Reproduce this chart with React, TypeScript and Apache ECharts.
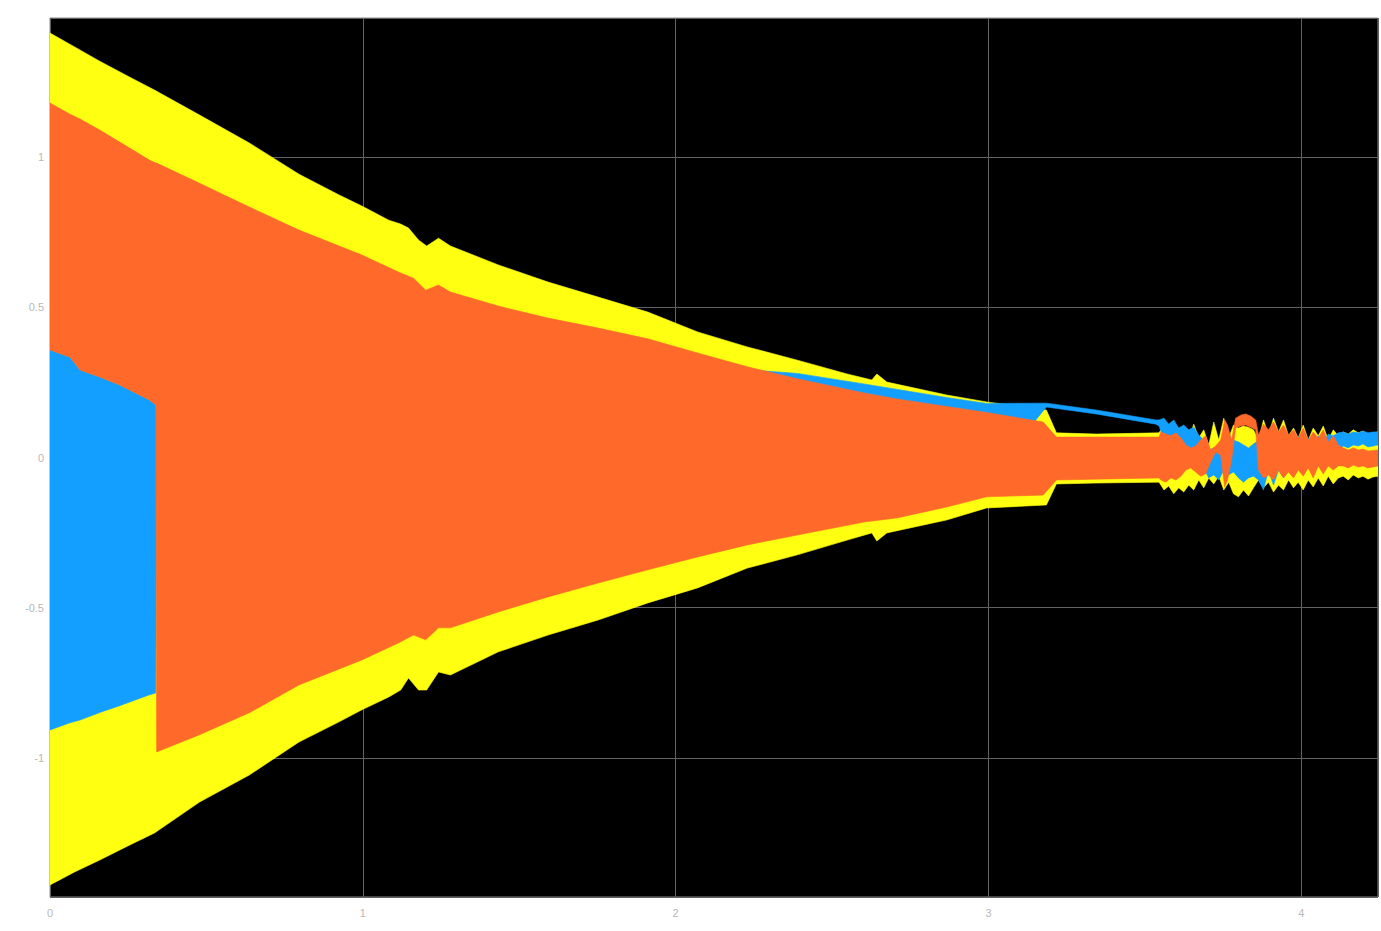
import React, { useEffect, useRef } from "react";
import * as echarts from "echarts";

// Tick values
const xTicks = [0, 1, 2, 3, 4];
const yTicks = [-1, -0.5, 0, 0.5, 1];

// Yellow signal envelope (main part)
const yellowX = [0, 0.080, 0.159, 0.255, 0.334, 0.478, 0.637, 0.796, 0.924, 0.997, 1.083, 1.121, 1.146, 1.178, 1.204, 1.242, 1.280, 1.433, 1.592, 1.752, 1.911, 2.070, 2.229, 2.389, 2.548, 2.627, 2.643, 2.675, 2.866, 2.994, 3.185, 3.217, 3.344];
const yellowHigh = [1.413, 1.366, 1.319, 1.266, 1.223, 1.140, 1.047, 0.943, 0.874, 0.837, 0.790, 0.777, 0.764, 0.724, 0.704, 0.730, 0.704, 0.641, 0.584, 0.534, 0.484, 0.418, 0.368, 0.324, 0.278, 0.258, 0.278, 0.251, 0.208, 0.185, 0.158, 0.082, 0.078];
const yellowLow = [-1.423, -1.379, -1.340, -1.290, -1.250, -1.147, -1.057, -0.947, -0.880, -0.840, -0.797, -0.774, -0.734, -0.774, -0.774, -0.714, -0.724, -0.647, -0.591, -0.541, -0.484, -0.434, -0.368, -0.324, -0.275, -0.251, -0.278, -0.251, -0.208, -0.168, -0.158, -0.088, -0.085];

// Noisy tail, shared time samples for yellow and blue
const noiseX = [3.545, 3.561, 3.576, 3.592, 3.608, 3.624, 3.640, 3.656, 3.672, 3.688, 3.704, 3.720, 3.736, 3.752, 3.768, 3.783, 3.799, 3.815, 3.831, 3.847, 3.863, 3.879, 3.895, 3.911, 3.927, 3.943, 3.959, 3.975, 3.990, 4.006, 4.022, 4.038, 4.054, 4.070, 4.086, 4.102, 4.118, 4.134, 4.150, 4.166, 4.182, 4.197, 4.213, 4.229, 4.245];
const yellowNoiseHigh = [0.082, 0.108, 0.085, 0.098, 0.072, 0.092, 0.058, 0.111, 0.065, 0.092, 0.042, 0.118, 0.058, 0.131, 0.065, 0.108, 0.098, 0.105, 0.101, 0.092, 0.058, 0.125, 0.075, 0.131, 0.085, 0.125, 0.072, 0.098, 0.065, 0.108, 0.058, 0.098, 0.072, 0.105, 0.058, 0.092, 0.072, 0.085, 0.078, 0.092, 0.082, 0.088, 0.078, 0.082, 0.085];
const yellowNoiseLow = [-0.082, -0.108, -0.095, -0.121, -0.101, -0.115, -0.092, -0.108, -0.075, -0.101, -0.068, -0.088, -0.062, -0.108, -0.082, -0.121, -0.131, -0.108, -0.128, -0.101, -0.075, -0.101, -0.082, -0.115, -0.092, -0.108, -0.075, -0.101, -0.082, -0.108, -0.075, -0.098, -0.068, -0.095, -0.062, -0.088, -0.068, -0.062, -0.075, -0.058, -0.068, -0.062, -0.072, -0.065, -0.062];

// Blue signal envelope
const blueX = [0, 0.064, 0.096, 0.159, 0.223, 0.318, 0.338, 0.341, 0.796, 1.433, 1.752, 1.911, 2.070, 2.229, 2.389, 2.602, 2.866, 2.994, 3.185, 3.344, 3.535];
const blueHigh = [0.358, 0.334, 0.291, 0.268, 0.241, 0.191, 0.175, 0.092, 0.191, 0.424, 0.391, 0.360, 0.320, 0.292, 0.280, 0.245, 0.200, 0.180, 0.181, 0.158, 0.125];
const blueLow = [-0.907, -0.883, -0.874, -0.849, -0.826, -0.790, -0.784, -0.075, -0.075, -0.075, -0.075, -0.075, -0.075, -0.075, -0.075, -0.075, -0.075, -0.075, 0.168, 0.145, 0.111];
const blueNoiseHigh = [0.125, 0.131, 0.111, 0.125, 0.098, 0.108, 0.092, 0.101, 0.075, 0.058, 0.025, 0.032, 0.018, 0.058, 0.042, 0.058, 0.052, 0.042, 0.032, 0.045, 0.058, 0.042, 0.058, 0.025, 0.065, 0.042, 0.058, 0.025, 0.072, 0.052, 0.065, 0.038, 0.072, 0.052, 0.078, 0.072, 0.082, 0.085, 0.078, 0.085, 0.082, 0.088, 0.082, 0.085, 0.085];
const blueNoiseLow = [0.105, 0.058, 0.042, 0.072, 0.025, 0.042, 0.008, 0.032, -0.008, -0.035, -0.068, -0.058, -0.075, -0.042, -0.058, -0.048, -0.068, -0.082, -0.068, -0.062, -0.075, -0.108, -0.042, -0.092, -0.042, -0.068, -0.035, -0.062, -0.028, -0.048, -0.015, -0.042, -0.008, -0.028, -0.002, 0.008, 0.025, 0.038, 0.032, 0.042, 0.038, 0.045, 0.035, 0.038, 0.042];

// Orange signal envelope
const orangeX = [0, 0.064, 0.096, 0.159, 0.223, 0.318, 0.338, 0.341, 0.478, 0.637, 0.796, 0.997, 1.115, 1.162, 1.201, 1.242, 1.280, 1.433, 1.592, 1.752, 1.911, 2.070, 2.229, 2.389, 2.602, 2.707, 2.866, 2.994, 3.175, 3.217, 3.344];
const orangeHigh = [1.180, 1.143, 1.127, 1.090, 1.050, 0.990, 0.980, 0.980, 0.913, 0.834, 0.757, 0.674, 0.617, 0.597, 0.557, 0.574, 0.551, 0.504, 0.464, 0.431, 0.395, 0.348, 0.302, 0.262, 0.215, 0.195, 0.170, 0.150, 0.118, 0.068, 0.068];
const orangeLow = [0.358, 0.334, 0.291, 0.268, 0.241, 0.191, 0.175, -0.980, -0.923, -0.850, -0.757, -0.674, -0.617, -0.591, -0.607, -0.567, -0.567, -0.514, -0.464, -0.418, -0.374, -0.331, -0.291, -0.258, -0.215, -0.201, -0.165, -0.131, -0.125, -0.075, -0.072];
const orangeNoiseX = [3.545, 3.551, 3.567, 3.583, 3.599, 3.615, 3.631, 3.646, 3.662, 3.678, 3.694, 3.710, 3.726, 3.742, 3.755, 3.764, 3.777, 3.790, 3.806, 3.822, 3.838, 3.854, 3.863, 3.879, 3.895, 3.911, 3.927, 3.943, 3.959, 3.975, 3.990, 4.006, 4.022, 4.038, 4.054, 4.070, 4.086, 4.102, 4.118, 4.134, 4.150, 4.166, 4.182, 4.197, 4.213, 4.245];
const orangeNoiseHigh = [0.068, 0.085, 0.078, 0.072, 0.082, 0.065, 0.042, 0.032, 0.038, 0.058, 0.072, 0.025, 0.038, 0.058, 0.125, 0.108, 0.058, 0.131, 0.141, 0.145, 0.138, 0.125, 0.075, 0.111, 0.092, 0.118, 0.085, 0.108, 0.075, 0.092, 0.065, 0.098, 0.058, 0.085, 0.065, 0.092, 0.052, 0.072, 0.042, 0.032, 0.025, 0.032, 0.025, 0.028, 0.022, 0.025];
const orangeNoiseLow = [-0.068, -0.075, -0.082, -0.068, -0.075, -0.062, -0.042, -0.035, -0.048, -0.062, -0.055, -0.015, 0.018, 0.008, -0.098, -0.075, -0.008, 0.098, 0.105, 0.108, 0.101, 0.092, -0.042, -0.068, -0.058, -0.075, -0.042, -0.068, -0.048, -0.068, -0.042, -0.062, -0.035, -0.068, -0.028, -0.055, -0.028, -0.042, -0.028, -0.028, -0.035, -0.025, -0.032, -0.028, -0.035, -0.028];

const YELLOW = "#FFFF11";
const BLUE = "#139FFF";
const ORANGE = "#FF6929";

// A filled envelope band drawn as one polygon through the axis scales
function bandSeries(name: string, xs: number[], hi: number[], lo: number[], color: string, z: number) {
  const data = xs.map((x, i) => [x, lo[i], hi[i]]);
  return {
    name,
    type: "custom",
    clip: true,
    silent: true,
    z,
    encode: { x: 0, y: [1, 2] },
    data,
    renderItem: (params: any, api: any) => {
      if (params.dataIndexInside !== 0) return null;
      const top: number[][] = [];
      const bottom: number[][] = [];
      for (let i = 0; i < data.length; i++) {
        const x = api.value(0, i);
        top.push(api.coord([x, api.value(2, i)]));
        bottom.push(api.coord([x, api.value(1, i)]));
      }
      return {
        type: "polygon",
        shape: { points: top.concat(bottom.reverse()) },
        style: { fill: color, stroke: color, lineWidth: 0.6 },
      };
    },
  };
}

export default function App() {
  const ref = useRef<HTMLDivElement>(null);
  useEffect(() => {
    if (!ref.current) return;
    const chart = echarts.init(ref.current, undefined, { renderer: "svg" });
    const series = [
      bandSeries("yellow", [...yellowX, ...noiseX], [...yellowHigh, ...yellowNoiseHigh], [...yellowLow, ...yellowNoiseLow], YELLOW, 2),
      bandSeries("blue", [...blueX, ...noiseX], [...blueHigh, ...blueNoiseHigh], [...blueLow, ...blueNoiseLow], BLUE, 3),
      bandSeries("orange", [...orangeX, ...orangeNoiseX], [...orangeHigh, ...orangeNoiseHigh], [...orangeLow, ...orangeNoiseLow], ORANGE, 4),
    ];
    chart.setOption({
      animation: false,
      backgroundColor: "#ffffff",
      grid: {
        left: 50,
        right: -2,
        top: 18,
        bottom: 34,
        show: true,
        backgroundColor: "#000000",
        borderColor: "#8a8a8a",
        borderWidth: 1,
      },
      xAxis: {
        type: "value",
        min: 0,
        max: 4.245,
        interval: 1,
        axisLine: { show: false },
        axisTick: { show: false },
        splitLine: { show: true, lineStyle: { color: "#626262", width: 1 } },
        axisLabel: {
          color: "#b8b8b8",
          fontSize: 11,
          fontFamily: "Liberation Sans, Arial, sans-serif",
          margin: 10,
          formatter: (v: number) => (xTicks.some((t) => Math.abs(t - v) < 1e-9) ? String(v) : ""),
        },
      },
      yAxis: {
        type: "value",
        min: -1.463,
        max: 1.463,
        axisLine: { show: false },
        axisTick: { show: false },
        splitLine: { show: true, lineStyle: { color: "#626262", width: 1 } },
        axisLabel: {
          color: "#b8b8b8",
          fontSize: 11,
          fontFamily: "Liberation Sans, Arial, sans-serif",
          margin: 6,
          formatter: (v: number) => {
            const t = yTicks.find((t) => Math.abs(t - v) < 1e-9);
            return t === undefined ? "" : String(t);
          },
        },
      },
      series,
    });
    return () => chart.dispose();
  }, []);
  return (
    <div
      ref={ref}
      style={{ position: "absolute", left: 0, top: 0, width: 1381, height: 931, background: "#fff" }}
    />
  );
}
